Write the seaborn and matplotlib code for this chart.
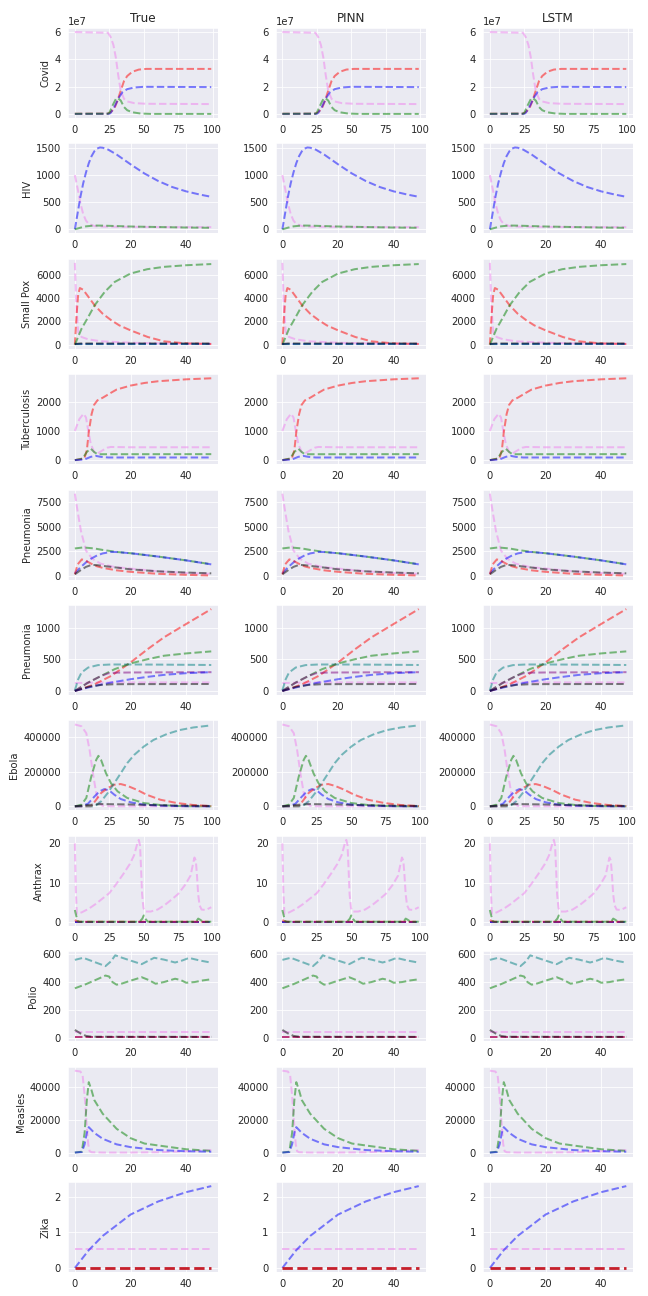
import matplotlib
matplotlib.use("Agg")
import matplotlib.pyplot as plt
import seaborn as sns

# ---------------- data ----------------
COL_TITLES = ["True", "PINN", "LSTM"]
DISEASES = ["Covid", "HIV", "Small Pox", "Tuberculosis", "Pneumonia", "Pneumonia",
            "Ebola", "Anthrax", "Polio", "Measles", "Zika"]

# Covid (values in people)
covid_violet_t = [0, 24, 26, 28, 29.8, 31.4, 33.3, 35.7, 38, 43, 52, 75, 99]
covid_violet_y = [6.0e7, 5.95e7, 5.64e7, 5.05e7, 4.1e7, 2.9e7, 1.71e7, 1.12e7, 0.93e7, 0.81e7, 0.76e7, 0.75e7, 0.74e7]
covid_red_t = [0, 24, 26, 28.6, 31, 32.9, 35.7, 38, 41.7, 46.4, 52, 75, 99]
covid_red_y = [0.03e7, 0.04e7, 0.15e7, 0.4e7, 1.0e7, 1.6e7, 2.43e7, 2.79e7, 3.1e7, 3.26e7, 3.31e7, 3.31e7, 3.31e7]
covid_blue_t = [0, 25, 26, 28, 29.8, 32.1, 34.5, 38, 43, 50, 75, 99]
covid_blue_y = [0.02e7, 0.03e7, 0.1e7, 0.4e7, 0.76e7, 1.24e7, 1.6e7, 1.83e7, 1.95e7, 2.0e7, 1.99e7, 1.98e7]
covid_green_t = [0, 24, 25, 27.4, 29.8, 31, 33.3, 35.7, 38, 41.7, 47.6, 55, 99]
covid_green_y = [0.03e7, 0.04e7, 0.1e7, 0.64e7, 1.12e7, 1.19e7, 1.0e7, 0.52e7, 0.29e7, 0.14e7, 0.05e7, 0.02e7, 0.02e7]

# HIV
hiv_blue_t = [0, 1, 2, 3, 4, 5, 6, 7, 8, 9, 10, 12, 15, 20, 25, 30, 35, 40, 45, 49]
hiv_blue_y = [0, 300, 600, 850, 1050, 1220, 1350, 1440, 1490, 1510, 1505, 1470, 1380, 1200, 1030, 890, 780, 700, 640, 600]
hiv_violet_t = [0, 1, 2, 3, 4, 5, 7, 10, 20, 30, 40, 49]
hiv_violet_y = [1000, 750, 480, 280, 160, 100, 60, 50, 45, 42, 40, 40]
hiv_green_t = [0, 2, 4, 7, 10, 15, 20, 30, 40, 49]
hiv_green_y = [0, 30, 55, 70, 68, 60, 52, 42, 33, 28]

# Small Pox
pox_violet_t = [0, 0.5, 1.2, 2.4, 4.8, 9.5, 20, 31, 40, 49]
pox_violet_y = [7000, 3500, 1090, 660, 460, 290, 170, 110, 90, 80]
pox_red_t = [0, 0.6, 1.2, 1.8, 3, 5, 7.1, 10, 13.1, 16, 20, 26.2, 32, 40, 49]
pox_red_y = [0, 2500, 4300, 4850, 4700, 4050, 3370, 2650, 2090, 1650, 1230, 660, 290, 110, 60]
pox_green_t = [0, 2.4, 4.8, 7.1, 10.7, 14.3, 20, 26, 32, 40, 49]
pox_green_y = [0, 1370, 2370, 3370, 4510, 5370, 6090, 6460, 6660, 6800, 6900]
pox_black_t = [0, 2, 49]
pox_black_y = [60, 110, 110]
pox_teal_t = [0, 49]
pox_teal_y = [50, 60]
pox_blue_t = [0, 49]
pox_blue_y = [20, 20]

# Tuberculosis
tb_violet_t = [0, 1.6, 3.1, 4, 4.8, 5.7, 6.9, 8.1, 10, 11.7, 12.9, 20, 49]
tb_violet_y = [1000, 1400, 1585, 1460, 1010, 560, 280, 225, 337, 427, 450, 440, 440]
tb_red_t = [0, 3.4, 4.3, 5, 6, 6.9, 8.1, 10, 12.9, 15, 20, 25, 30, 40, 49]
tb_red_y = [0, 56, 337, 955, 1570, 1890, 2045, 2135, 2300, 2415, 2550, 2640, 2700, 2765, 2800]
tb_green_t = [0, 2.8, 4.3, 5.7, 6.9, 8.1, 20, 49]
tb_green_y = [0, 56, 280, 393, 280, 202, 203, 205]
tb_blue_t = [0, 3.4, 5.7, 7.5, 9.3, 12, 49]
tb_blue_y = [0, 20, 112, 146, 112, 90, 90]

# Pneumonia (first)
pn1_violet_t = [0, 1, 2.2, 4, 6.3, 9.3, 14, 20, 30, 40, 49]
pn1_violet_y = [8300, 6500, 4540, 2580, 1760, 1270, 950, 780, 500, 330, 250]
pn1_green_t = [0, 3, 7, 10, 15, 20, 30, 40, 49]
pn1_green_y = [2800, 2900, 2800, 2650, 2450, 2320, 1980, 1600, 1210]
pn1_blue_t = [0, 2, 4, 6, 8, 10, 13, 15, 20, 30, 40, 49]
pn1_blue_y = [300, 900, 1400, 1800, 2100, 2300, 2450, 2440, 2320, 1980, 1600, 1200]
pn1_red_t = [0, 1, 2.5, 4, 6, 8, 10, 15, 20, 30, 40, 49]
pn1_red_y = [200, 1200, 1700, 1550, 1250, 1000, 850, 600, 450, 250, 150, 80]
pn1_black_t = [0, 2, 4, 6, 8, 10, 15, 20, 30, 40, 49]
pn1_black_y = [200, 600, 950, 1150, 1120, 1050, 880, 700, 500, 380, 300]

# Pneumonia (second)
pn2_red_t = [0, 3, 7.1, 13.1, 20, 26.2, 32, 40, 49]
pn2_red_y = [0, 40, 106, 240, 452, 665, 851, 1064, 1300]
pn2_green_t = [0, 4.8, 9.5, 14.3, 20, 26.2, 32, 40, 49]
pn2_green_y = [0, 133, 240, 346, 436, 505, 559, 596, 628]
pn2_teal_t = [0, 1.2, 2.4, 4.8, 8.3, 13, 20, 30, 40, 49]
pn2_teal_y = [10, 186, 293, 372, 410, 420, 420, 418, 415, 412]
pn2_purple_t = [0, 4.8, 9.5, 12, 15, 20, 30, 40, 49]
pn2_purple_y = [0, 133, 240, 280, 290, 293, 295, 297, 298]
pn2_blue_t = [0, 7.1, 13, 20, 26, 32, 40, 49]
pn2_blue_y = [0, 80, 133, 186, 223, 255, 282, 298]
pn2_violet_t = [0, 10, 49]
pn2_violet_y = [125, 135, 135]
pn2_black_t = [0, 4.8, 9.5, 14, 20, 49]
pn2_black_y = [0, 64, 96, 106, 108, 110]

# Ebola
ebo_violet_t = [0, 4.8, 8.3, 10.7, 13.1, 15.5, 17.9, 20, 25, 99]
ebo_violet_y = [470000, 460000, 420000, 324000, 190000, 76000, 19000, 3000, 500, 0]
ebo_green_t = [0, 4.8, 8.3, 11.9, 15.5, 17.1, 19, 22.6, 26.2, 31, 38, 50, 62, 74, 86, 99]
ebo_green_y = [0, 9500, 48000, 171000, 267000, 290000, 267000, 190000, 133000, 86000, 48000, 19000, 7600, 2000, 500, 0]
ebo_blue_t = [0, 5, 9.5, 14.3, 17.9, 21.4, 25, 28.6, 33.3, 40.5, 50, 62, 75, 86, 99]
ebo_blue_y = [0, 1000, 15000, 57000, 86000, 99000, 91000, 67000, 42000, 23000, 9500, 4000, 1500, 500, 0]
ebo_red_t = [0, 11.9, 15.5, 19, 23.8, 28.6, 33.3, 38, 45, 52, 62, 74, 86, 97.6, 99]
ebo_red_y = [0, 500, 38000, 76000, 105000, 124000, 128000, 118000, 95000, 67000, 38000, 19000, 7600, 2000, 1800]
ebo_teal_t = [0, 14.3, 19, 23.8, 28.6, 33.3, 38, 43, 50, 57, 66.7, 76, 86, 99]
ebo_teal_y = [0, 0, 28000, 76000, 133000, 190000, 248000, 295000, 343000, 381000, 415000, 438000, 453000, 465000]
ebo_black_t = [0, 9.5, 19, 38, 62, 99]
ebo_black_y = [0, 7600, 13000, 11000, 6000, 2000]

# Anthrax
ant_violet_t = [0, 0.7, 1.5, 5, 10, 15, 20, 25, 30, 35, 40, 43, 45.5, 46.4, 47.3, 48, 48.8, 49.8, 51, 55,
                60, 65, 70, 75, 80, 84, 86, 86.8, 87.8, 88.6, 89.5, 90.5, 92, 95, 99]
ant_violet_y = [20, 8, 2.0, 2.4, 3.3, 4.5, 5.9, 7.3, 9.6, 12.1, 14.8, 17, 20.2, 20.9, 19.5, 14, 7, 3.5, 2.6, 2.6,
                3.1, 4.2, 5.6, 7.1, 9.4, 11.8, 15.2, 16.4, 15.6, 12, 7, 4.2, 3.1, 3.0, 3.7]
ant_green_t = [0, 1, 2, 3, 47, 49, 50, 51.5, 53, 88, 89.5, 91, 93, 99]
ant_green_y = [3, 1.5, 0.2, 0, 0, 0.8, 1.6, 0.6, 0, 0, 0.8, 0.5, 0, 0]
ant_red_t = [0, 2, 4, 89, 90, 92, 99]
ant_red_y = [0.4, 0.1, 0, 0, 0.3, 0, 0]
ant_zero_t = [0, 99]
ant_zero_y = [0, 0]

# Polio
pol_teal_t = [0, 3, 7, 11, 13, 14.5, 17, 20, 24, 26.5, 28.5, 32, 36, 38.5, 41, 45, 49]
pol_teal_y = [560, 575, 545, 515, 550, 593, 575, 555, 529, 555, 575, 562, 541, 555, 574, 555, 540]
pol_green_t = [0, 4, 8, 11, 12.3, 13.5, 15, 17, 20, 24, 26.5, 29, 32, 36, 38, 40, 43, 46, 49]
pol_green_y = [355, 385, 420, 447, 440, 400, 381, 390, 410, 435, 415, 388, 400, 424, 415, 395, 400, 412, 420]
pol_black_t = [0, 2, 4, 6, 49]
pol_black_y = [55, 30, 12, 6, 5]
pol_violet_t = [0, 49]
pol_violet_y = [40, 40]
pol_red_t = [0, 49]
pol_red_y = [5, 5]
pol_purple_t = [0, 49]
pol_purple_y = [3, 3]

# Measles
mea_violet_t = [0, 2, 2.8, 3.5, 4.2, 4.8, 5.3, 6, 10, 20, 30, 40, 49]
mea_violet_y = [50000, 49500, 47000, 35000, 18000, 5000, 800, 200, 0, 0, 200, 800, 1500]
mea_green_t = [0, 2.5, 3.5, 4.3, 5, 6, 7, 10, 15, 20, 25, 30, 40, 49]
mea_green_y = [0, 500, 12000, 32000, 43000, 38000, 32000, 23700, 14500, 8800, 5500, 4300, 2000, 1000]
mea_blue_t = [0, 2.5, 3.5, 4.3, 5, 7, 10, 15, 20, 30, 40, 49]
mea_blue_y = [0, 300, 5000, 12000, 15500, 12000, 8400, 5000, 3300, 1500, 800, 500]

# Zika
zik_blue_t = [0, 5, 10, 15, 20, 30, 40, 49]
zik_blue_y = [0, 0.5, 0.9, 1.2, 1.5, 1.87, 2.13, 2.3]
zik_violet_t = [0, 49]
zik_violet_y = [0.52, 0.52]
zik_zero_t = [0, 49]
zik_zero_y = [0, 0]

# series per panel: (t, y, colour)
PANELS = [
    [(covid_violet_t, covid_violet_y, "violet"), (covid_red_t, covid_red_y, "red"),
     (covid_blue_t, covid_blue_y, "blue"), (covid_green_t, covid_green_y, "green")],
    [(hiv_violet_t, hiv_violet_y, "violet"), (hiv_blue_t, hiv_blue_y, "blue"),
     (hiv_green_t, hiv_green_y, "green")],
    [(pox_violet_t, pox_violet_y, "violet"), (pox_red_t, pox_red_y, "red"),
     (pox_green_t, pox_green_y, "green"), (pox_blue_t, pox_blue_y, "blue"),
     (pox_teal_t, pox_teal_y, "teal"), (pox_black_t, pox_black_y, "black")],
    [(tb_violet_t, tb_violet_y, "violet"), (tb_red_t, tb_red_y, "red"),
     (tb_green_t, tb_green_y, "green"), (tb_blue_t, tb_blue_y, "blue")],
    [(pn1_violet_t, pn1_violet_y, "violet"), (pn1_green_t, pn1_green_y, "green"),
     (pn1_blue_t, pn1_blue_y, "blue"), (pn1_red_t, pn1_red_y, "red"),
     (pn1_black_t, pn1_black_y, "black")],
    [(pn2_violet_t, pn2_violet_y, "violet"), (pn2_red_t, pn2_red_y, "red"),
     (pn2_green_t, pn2_green_y, "green"), (pn2_teal_t, pn2_teal_y, "teal"),
     (pn2_purple_t, pn2_purple_y, "purple"), (pn2_blue_t, pn2_blue_y, "blue"),
     (pn2_black_t, pn2_black_y, "black")],
    [(ebo_violet_t, ebo_violet_y, "violet"), (ebo_green_t, ebo_green_y, "green"),
     (ebo_blue_t, ebo_blue_y, "blue"), (ebo_red_t, ebo_red_y, "red"),
     (ebo_teal_t, ebo_teal_y, "teal"), (ebo_black_t, ebo_black_y, "black")],
    [(ant_violet_t, ant_violet_y, "violet"), (ant_zero_t, ant_zero_y, "teal"),
     (ant_zero_t, ant_zero_y, "purple"), (ant_zero_t, ant_zero_y, "blue"),
     (ant_red_t, ant_red_y, "red"), (ant_green_t, ant_green_y, "green")],
    [(pol_teal_t, pol_teal_y, "teal"), (pol_green_t, pol_green_y, "green"),
     (pol_violet_t, pol_violet_y, "violet"), (pol_red_t, pol_red_y, "red"),
     (pol_purple_t, pol_purple_y, "purple"), (pol_black_t, pol_black_y, "black")],
    [(mea_violet_t, mea_violet_y, "violet"), (mea_green_t, mea_green_y, "green"),
     (mea_blue_t, mea_blue_y, "blue")],
    [(zik_violet_t, zik_violet_y, "violet"), (zik_blue_t, zik_blue_y, "blue"),
     (zik_zero_t, zik_zero_y, "#C41420")],
]

# ---------------- drawing ----------------
sns.set_style("darkgrid")
fig, axes = plt.subplots(len(DISEASES), 3, figsize=(9, 18), dpi=72)
fig.subplots_adjust(left=0.105, right=0.977, top=0.9784, bottom=0.0185,
                    wspace=0.383, hspace=0.282)

for r, (name, series) in enumerate(zip(DISEASES, PANELS)):
    for c in range(3):
        ax = axes[r, c]
        for t, y, col in series:
            strong = col.startswith("#")
            sns.lineplot(x=t, y=y, ax=ax, color=col, linestyle="--",
                         linewidth=2.8 if strong else 2.0,
                         alpha=0.95 if strong else 0.5, sort=False,
                         estimator=None)
        if r == 0:
            ax.set_title(COL_TITLES[c])
        if c == 0:
            ax.set_ylabel(name)
        else:
            ax.set_ylabel("")
        ax.set_xlabel("")

fig.savefig("out.png", dpi=72)
